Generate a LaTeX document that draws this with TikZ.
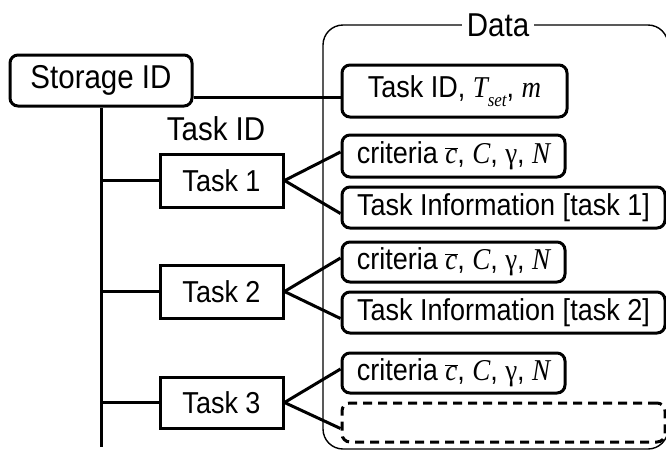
\documentclass[tikz,border=0pt]{standalone}
\usepackage{graphicx}
\usepackage{fontspec}
\setmainfont{Liberation Sans}
\newfontfamily\tms{Liberation Serif}
% lettering is set slightly taller than wide
\newcommand{\tall}[1]{\scalebox{1}[1.12]{#1}}
\begin{document}
\begin{tikzpicture}[x=1pt,y=-1pt,
  txt/.style={font=\fontsize{27}{30}\selectfont, inner sep=0pt},
  big/.style={font=\fontsize{29.5}{32}\selectfont},
  rbox/.style={draw, line width=3pt, rounded corners=8pt, txt},
  sbox/.style={draw, line width=3pt, txt},
  link/.style={line width=3pt},
  frame/.style={draw, line width=1.4pt, rounded corners=20pt}]
\useasboundingbox (0,0) rectangle (666,451);

% data container with its caption
\draw[frame] (323,25) rectangle (668,449);
\node[txt, big, fill=white, inner xsep=5pt] (data) at (498,25) {\tall{Data}};

% storage and task boxes
\node[rbox, big, minimum width=182pt, minimum height=51pt] (sid) at (101,80.5) {\tall{Storage ID}};
\node[txt, big] (tidlbl) at (216,129) {\tall{Task ID}};
\node[sbox, minimum width=123pt, minimum height=53pt] (t1) at (221.5,180.5) {\tall{Task 1}};
\node[sbox, minimum width=123pt, minimum height=53pt] (t2) at (221.5,291.5) {\tall{Task 2}};
\node[sbox, minimum width=123pt, minimum height=51pt] (t3) at (221.5,402.5) {\tall{Task 3}};

% data entries
\newcommand{\critline}{\tall{criteria $\overline{\hbox{\tms\itshape c\kern1pt}}$\kern-1pt,
  {\tms\itshape C}, {\tms γ}, {\tms\itshape N}}}
\node[rbox, minimum width=225pt, minimum height=52pt] (tid) at (454.5,91)
  {\tall{Task ID, {\tms\itshape T\raisebox{-0.28em}{\fontsize{17}{17}\selectfont set}}, {\tms\itshape m}}};
\node[rbox, minimum width=223pt, minimum height=42pt] (c1) at (453.5,156) {\critline};
\node[rbox, minimum width=323pt, minimum height=41pt] (i1) at (503.5,207.5) {\tall{Task Information [task 1]}};
\node[rbox, minimum width=223pt, minimum height=40pt] (c2) at (453.5,262) {\critline};
\node[rbox, minimum width=323pt, minimum height=41pt] (i2) at (503.5,312.5) {\tall{Task Information [task 2]}};
\node[rbox, minimum width=223pt, minimum height=40pt] (c3) at (453.5,373) {\critline};
\node[draw, line width=3pt, rounded corners=8pt, dash pattern=on 9pt off 6pt,
  minimum width=323pt, minimum height=39pt, inner sep=0pt] (i3) at (503.5,422.5) {};

% connectors
\coordinate (j) at (0,97);
\coordinate (trunkend) at (0,447);
\draw[link] (sid.east |- j) -- (tid.west |- j);
\draw[link] (sid.south) -- (sid.south |- trunkend);
\draw[link] (sid.south |- t1.west) -- (t1.west);
\draw[link] (sid.south |- t2.west) -- (t2.west);
\draw[link] (sid.south |- t3.west) -- (t3.west);
\draw[link] (t1.east) -- ([yshift=4pt]c1.west);
\draw[link] (t1.east) -- ([yshift=-6pt]i1.west);
\draw[link] (t2.east) -- ([yshift=4pt]c2.west);
\draw[link] (t2.east) -- ([yshift=-6pt]i2.west);
\draw[link] (t3.east) -- ([yshift=4pt]c3.west);
\draw[link] (t3.east) -- ([yshift=-6pt]i3.west);
\end{tikzpicture}
\end{document}
